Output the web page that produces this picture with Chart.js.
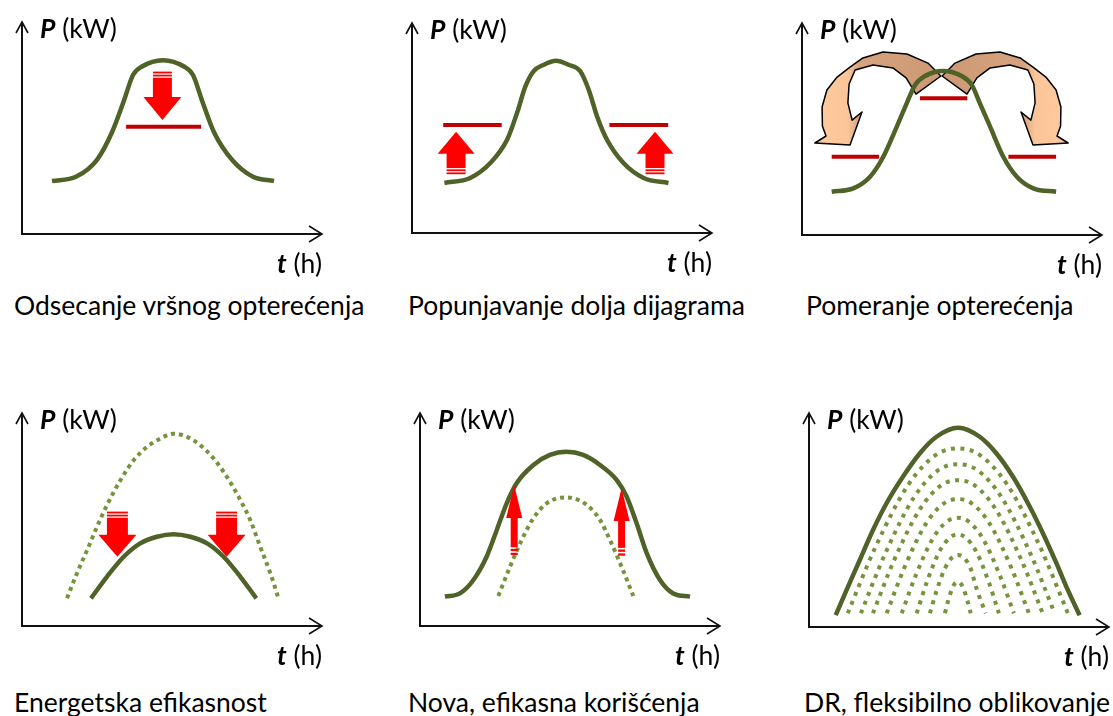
<!DOCTYPE html>
<html>
<head>
<meta charset="utf-8">
<script src="https://cdn.jsdelivr.net/npm/chart.js@4.4.1/dist/chart.umd.min.js"></script>
<style>
html, body { margin: 0; padding: 0; background: #fff; }
#page { position: relative; width: 1113px; height: 716px; overflow: hidden; font-family: Lato, "Open Sans", sans-serif; color: #000; }
#page canvas { position: absolute; }
.lbl { position: absolute; white-space: nowrap; font-size: 26.5px; line-height: 30px; height: 30px; }
</style>
</head>
<body>
<div id="page"></div>
<script>
// all curves in plain units: t runs 0..100 along the time axis, P 0..100 up the power axis

// 1 - peak clipping
const peakT = [10, 18, 25, 30, 34, 37, 40, 47, 54, 57, 60, 64, 70, 77, 84];
const peakP = [25, 27, 35, 48, 63, 75, 79, 82, 79, 75, 63, 48, 35, 27, 25];
const clipLevel = [{ from: 34.7, to: 59.7, p: 50.6 }];
const clipArrows = [{ t: 46.8, from: 76.6, to: 53.8 }];

// 2 - valley filling
const valleyT = [10.8, 19.4, 26.1, 31.7, 35, 37.8, 40.5, 43.9, 48, 52.2, 56.1, 58.9, 61.7, 65, 70.5, 77.2, 85.5];
const valleyP = [23.8, 26.2, 33.3, 44.4, 57.1, 69.8, 77, 80.1, 82, 80.1, 77, 68.2, 55.5, 44.4, 33.3, 26.2, 23.8];
const fillLevels = [{ from: 10.4, to: 29.9, p: 51.4 }, { from: 65.8, to: 85.4, p: 51.4 }];
const fillArrows = [{ t: 14.7, from: 28, to: 48.2 }, { t: 81, from: 28, to: 48.2 }];

// 3 - load shifting
const shiftT = [9.9, 17.1, 22.7, 27.1, 31.6, 34.9, 37.7, 41, 47.1, 53.2, 56.6, 59.3, 62.7, 67.1, 71.6, 77.1, 84.7];
const shiftP = [20.4, 22, 27.5, 36.9, 51.1, 62.1, 70.8, 75, 77.4, 75, 70.8, 62.1, 51.1, 36.9, 27.5, 22, 20.4];
const shiftLevels = [{ from: 9.9, to: 25.7, p: 36.9 }, { from: 39.3, to: 55.1, p: 64.5 }, { from: 68.8, to: 84.7, p: 36.9 }];
// outline of the left curved arrow, the right one is its mirror
const bendT = [46.3, 42, 35, 27, 20.3, 16, 11.7, 8.3, 6.7, 6.8, 8, 4.3, 16, 20, 16.7, 15.3, 15.7, 17.7, 23.7, 30.3, 34.7, 38];
const bendP = [75, 81.1, 85.4, 86.3, 83.5, 79.2, 74.5, 68.4, 60.4, 51.4, 46.7, 43.4, 42.5, 58, 54.2, 62.3, 71.2, 77.8, 80.2, 78.8, 74.1, 66.5];
const bendMirror = 46.5;

// 4 - energy efficiency
const effOldT = [15, 18.3, 21.7, 25, 28.3, 32.8, 37.2, 41.7, 46.1, 50.5, 55, 59.4, 63.9, 68.3, 72.8, 76.1, 79.4, 82.8, 85.5];
const effOldP = [13, 24.7, 35.6, 46.6, 56.7, 68.4, 77.8, 84.1, 88, 90.3, 88.8, 84.9, 78.6, 70, 59.1, 49.7, 37.2, 24.7, 13];
const effNewT = [23, 28.3, 33.9, 39.4, 45, 50.5, 56.1, 61.7, 67.2, 72.8, 78.1];
const effNewP = [13, 23.1, 32.5, 38.8, 41.9, 43.1, 41.9, 38.8, 32.5, 23.1, 13];
const effArrows = [{ t: 31.8, from: 53.7, to: 32.5 }, { t: 68.2, from: 53.7, to: 32.5 }];

// 5 - new efficient uses
const useNewT = [8.3, 13.3, 17.8, 22.2, 25.6, 28.9, 32.2, 37.8, 43.3, 48.9, 54.4, 60, 65.6, 68.9, 72.2, 75.6, 80, 84.4, 90];
const useNewP = [13.8, 15.3, 21.6, 32.5, 45.1, 57.6, 67, 75.6, 80.3, 81.8, 80.3, 75.6, 68.5, 60.7, 48.2, 34.1, 21.6, 15.3, 13.8];
const useOldT = [26.1, 30, 33.9, 37.8, 42.2, 48.9, 55.6, 60, 63.3, 67.2, 71.1];
const useOldP = [14.1, 27.8, 40.4, 50.6, 57.6, 60.4, 56.8, 49.8, 40.4, 27.8, 14.1];
const useArrows = [{ t: 31.4, from: 33.3, to: 66.2 }, { t: 67.2, from: 33, to: 64.8 }];

// 6 - DR, flexible shaping
const drTopT = [8.9, 12.5, 16.9, 21.3, 25.8, 31.3, 36.9, 42.5, 49.7, 56.9, 62.5, 68, 73.6, 78, 82.5, 86.3, 90.2];
const drTopP = [5.5, 17.2, 31.2, 45.2, 57.7, 70.2, 81.1, 88.9, 93.1, 88.9, 81.1, 70.2, 56.2, 43.7, 29.7, 17.2, 5.5];
const drInnerT = [
  [12.9, 22.1, 33.1, 42.3, 49.6, 56.9, 66.1, 77.1, 86.3],
  [17.3, 25.4, 35.1, 43.1, 49.6, 56.1, 64.1, 73.8, 81.9],
  [21.3, 28.4, 36.9, 43.9, 49.6, 55.3, 62.3, 70.8, 77.9],
  [25.9, 31.8, 38.9, 44.9, 49.6, 54.3, 60.3, 67.4, 73.3],
  [30.9, 35.6, 41.2, 45.9, 49.6, 53.3, 58, 63.6, 68.3],
  [35.9, 39.3, 43.4, 46.9, 49.6, 52.3, 55.8, 59.9, 63.3],
  [40.3, 42.6, 45.4, 47.7, 49.6, 51.5, 53.8, 56, 58.9],
  [45.3, 46.4, 47.7, 48.7, 49.6, 50.5, 51.5, 52.8, 53.9]
];
const drInnerP = [
  [6.4, 37.2, 66.5, 80.4, 83.5, 80.4, 66.5, 37.2, 6.4],
  [6.4, 34.3, 60.8, 73.3, 76.1, 73.3, 60.8, 34.3, 6.4],
  [6.4, 31.3, 54.9, 66.1, 68.6, 66.1, 54.9, 31.3, 6.4],
  [6.4, 27.8, 48.1, 57.7, 59.8, 57.7, 48.1, 27.8, 6.4],
  [6.4, 24.2, 41.2, 49.2, 51, 49.2, 41.2, 24.2, 6.4],
  [6.4, 21.1, 35.1, 41.7, 43.2, 41.7, 35.1, 21.1, 6.4],
  [6.4, 17.3, 27.6, 32.5, 33.6, 32.5, 27.6, 17.3, 6.4],
  [6.4, 12.3, 17.9, 20.5, 21.1, 20.5, 17.9, 12.3, 6.4]
];

const titles = ['Odsecanje vršnog opterećenja', 'Popunjavanje dolja dijagrama', 'Pomeranje opterećenja',
  'Energetska efikasnost', 'Nova, efikasna korišćenja', 'DR, fleksibilno oblikovanje'];

const GREEN = '#4F6228';
const LIGHT_GREEN = '#77933C';
const DARK_RED = '#C00000';

function pts(ts, ps) {
  return ts.map((t, i) => ({ x: t, y: ps[i] }));
}

function solid(ts, ps) {
  return { data: pts(ts, ps), borderColor: GREEN, borderWidth: 4.5, cubicInterpolationMode: 'monotone' };
}

function dotted(ts, ps, gap) {
  return { data: pts(ts, ps), borderColor: LIGHT_GREEN, borderWidth: 4, borderDash: [4, gap], cubicInterpolationMode: 'monotone' };
}

function level(l) {
  return { data: [{ x: l.from, y: l.p }, { x: l.to, y: l.p }], borderColor: DARK_RED, borderWidth: 4, tension: 0 };
}

// axes with open arrow heads
const axesPlugin = {
  id: 'axes',
  beforeDatasetsDraw(chart) {
    const { ctx, scales: { x, y } } = chart;
    const ox = x.getPixelForValue(0), oy = y.getPixelForValue(0);
    const ex = x.getPixelForValue(100), ty = y.getPixelForValue(100);
    ctx.save();
    ctx.strokeStyle = '#111';
    ctx.lineWidth = 2;
    ctx.beginPath();
    ctx.moveTo(ox, ty);
    ctx.lineTo(ox, oy);
    ctx.lineTo(ex, oy);
    ctx.stroke();
    ctx.lineWidth = 1.6;
    ctx.beginPath();
    ctx.moveTo(ox - 6, ty + 11);
    ctx.lineTo(ox, ty);
    ctx.lineTo(ox + 6, ty + 11);
    ctx.moveTo(ex - 13, oy - 8);
    ctx.lineTo(ex, oy);
    ctx.lineTo(ex - 13, oy + 8);
    ctx.stroke();
    ctx.restore();
  }
};

// red block arrows with the striped tail
const arrowPlugin = {
  id: 'redArrows',
  afterDatasetsDraw(chart, args, opts) {
    if (!opts.list) return;
    const { ctx, scales: { x, y } } = chart;
    ctx.save();
    ctx.fillStyle = '#FF0000';
    opts.list.forEach(a => {
      const cx = x.getPixelForValue(a.t);
      const tail = y.getPixelForValue(a.from);
      const tip = y.getPixelForValue(a.to);
      const dir = tip > tail ? 1 : -1;
      const base = tip - dir * opts.headLen;
      const s = opts.shaft / 2, h = opts.head / 2;
      ctx.beginPath();
      ctx.moveTo(cx - h, base);
      ctx.lineTo(cx + h, base);
      ctx.lineTo(cx, tip);
      ctx.closePath();
      ctx.fill();
      const solidStart = tail + dir * opts.stripe * 3.4;
      ctx.fillRect(cx - s, Math.min(solidStart, base + dir), opts.shaft, Math.abs(base - solidStart) + 1);
      ctx.fillRect(cx - s, Math.min(tail, tail + dir * opts.stripe), opts.shaft, opts.stripe);
      const s2 = tail + dir * opts.stripe * 1.7;
      ctx.fillRect(cx - s, Math.min(s2, s2 + dir * opts.stripe), opts.shaft, opts.stripe);
    });
    ctx.restore();
  }
};

// the two curved arrows of the load shifting panel
const bendPlugin = {
  id: 'bends',
  beforeDatasetsDraw(chart, args, opts) {
    if (!opts.show) return;
    const { ctx, scales: { x, y } } = chart;
    [false, true].forEach(mirror => {
      const tx = t => x.getPixelForValue(mirror ? 2 * bendMirror - t : t);
      const a = tx(4), b = tx(46);
      const g = ctx.createLinearGradient(a, 0, b, 0);
      g.addColorStop(0, '#FDCA9E');
      g.addColorStop(0.27, '#FBC599');
      g.addColorStop(0.36, '#D6A37F');
      g.addColorStop(1, '#CC9974');
      ctx.save();
      ctx.beginPath();
      bendT.forEach((t, i) => {
        const px = tx(t), py = y.getPixelForValue(bendP[i]);
        if (i === 0) ctx.moveTo(px, py); else ctx.lineTo(px, py);
      });
      ctx.closePath();
      ctx.fillStyle = g;
      ctx.fill();
      ctx.strokeStyle = '#000';
      ctx.lineWidth = 1.5;
      ctx.lineJoin = 'round';
      ctx.stroke();
      ctx.restore();
    });
  }
};

const panels = [
  { x0: 22, x1: 322, top: 22, y0: 234, tx: 14, ty: 305 },
  { x0: 412, x1: 712, top: 23, y0: 233, tx: 408, ty: 305 },
  { x0: 802, x1: 1102, top: 23, y0: 235, tx: 806, ty: 305 },
  { x0: 22, x1: 322, top: 413, y0: 626, tx: 14, ty: 702 },
  { x0: 420, x1: 720, top: 413, y0: 626, tx: 408, ty: 702 },
  { x0: 809, x1: 1109, top: 413, y0: 627, tx: 804, ty: 702 }
];

const datasets = [
  [solid(peakT, peakP), ...clipLevel.map(level)],
  [solid(valleyT, valleyP), ...fillLevels.map(level)],
  [...shiftLevels.map(level), solid(shiftT, shiftP)],
  [dotted(effOldT, effOldP, 4), solid(effNewT, effNewP)],
  [dotted(useOldT, useOldP, 4), solid(useNewT, useNewP)],
  [...drInnerT.map((t, i) => dotted(t, drInnerP[i], 5.5)), solid(drTopT, drTopP)]
];

const arrowOpts = [
  { list: clipArrows, shaft: 19, head: 38, headLen: 23, stripe: 1.8 },
  { list: fillArrows, shaft: 19, head: 37, headLen: 22, stripe: 1.8 },
  {},
  { list: effArrows, shaft: 21, head: 38, headLen: 22, stripe: 1.8 },
  { list: useArrows, shaft: 7, head: 16, headLen: 33, stripe: 2.3 },
  {}
];

const page = document.getElementById('page');
const PAD = 14;

panels.forEach((p, i) => {
  const cv = document.createElement('canvas');
  const w = p.x1 - p.x0 + 2 * PAD, h = p.y0 - p.top + 2 * PAD;
  cv.width = w;
  cv.height = h;
  cv.style.left = (p.x0 - PAD) + 'px';
  cv.style.top = (p.top - PAD) + 'px';
  cv.style.width = w + 'px';
  cv.style.height = h + 'px';
  page.appendChild(cv);

  new Chart(cv, {
    type: 'line',
    data: { datasets: datasets[i] },
    options: {
      responsive: false,
      animation: false,
      devicePixelRatio: 1,
      layout: { padding: PAD },
      elements: { point: { radius: 0 }, line: { borderCapStyle: 'butt', fill: false } },
      scales: {
        x: { type: 'linear', min: 0, max: 100, display: false },
        y: { type: 'linear', min: 0, max: 100, display: false }
      },
      plugins: {
        legend: { display: false },
        tooltip: { enabled: false },
        redArrows: arrowOpts[i],
        bends: { show: i === 2 }
      }
    },
    plugins: [axesPlugin, bendPlugin, arrowPlugin]
  });

  const pl = document.createElement('div');
  pl.className = 'lbl';
  pl.style.left = (p.x0 + 18) + 'px';
  pl.style.top = (p.top + 6 - 15) + 'px';
  pl.innerHTML = '<b><i>P</i></b> (kW)';
  page.appendChild(pl);

  const tl = document.createElement('div');
  tl.className = 'lbl';
  tl.style.left = (p.x0 + 255) + 'px';
  tl.style.top = (p.y0 + 29 - 15) + 'px';
  tl.innerHTML = '<b><i>t</i></b> (h)';
  page.appendChild(tl);

  const title = document.createElement('div');
  title.className = 'lbl';
  title.style.left = p.tx + 'px';
  title.style.top = (p.ty - 15) + 'px';
  title.textContent = titles[i];
  page.appendChild(title);
});
</script>
</body>
</html>
